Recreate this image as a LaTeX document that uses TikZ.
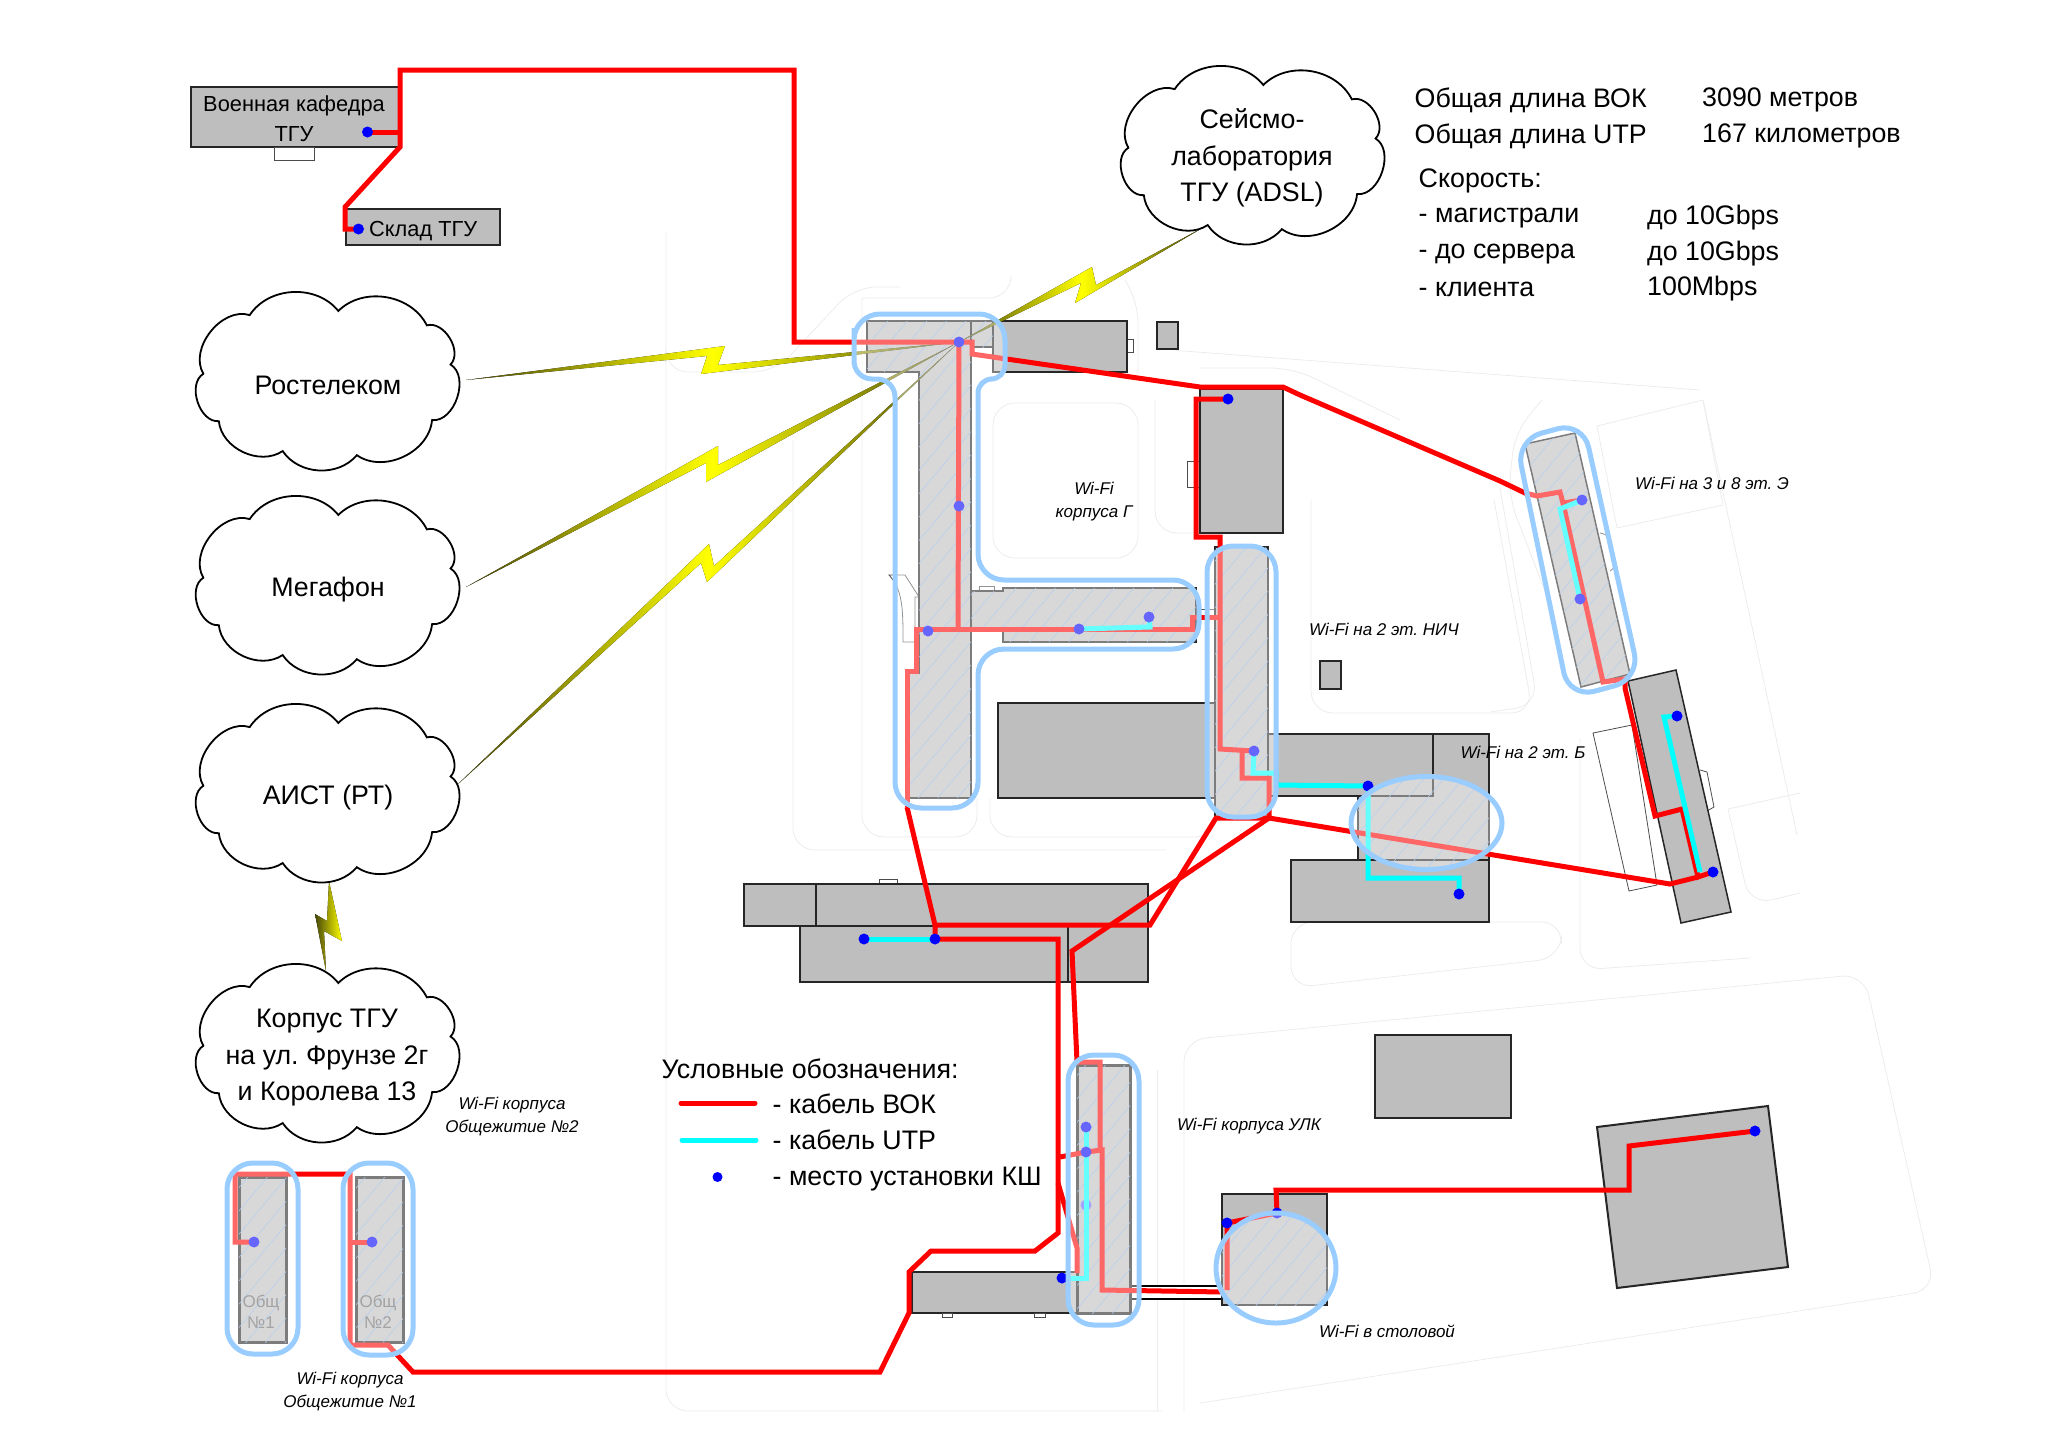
\documentclass[tikz,border=0pt]{standalone}
\usepackage{fontspec}
\setmainfont{Liberation Sans}
\usetikzlibrary{patterns.meta}

\definecolor{bldgray}{RGB}{190,190,190}
\definecolor{wifiblue}{RGB}{153,204,255}
\definecolor{hatchblue}{RGB}{130,175,235}
\definecolor{boltdark}{RGB}{70,70,10}
\definecolor{roadgray}{RGB}{236,236,236}
\definecolor{utpcyan}{RGB}{0,255,255}

\tikzset{
  road/.style={draw=roadgray,line width=0.8pt,rounded corners=22pt},
  bld/.style={draw=black!85,line width=1.5pt,fill=bldgray},
  annex/.style={draw=black!70,line width=0.8pt,fill=white},
  hatched/.style={postaction={pattern={Lines[angle=50,distance=15pt,line width=0.5pt]},pattern color=hatchblue}},
  vok/.style={draw=red,line width=5pt},
  utp/.style={draw=utpcyan,line width=5pt},
  ksh/.style={circle,fill=blue,inner sep=0pt,minimum size=11pt},
  wifizone/.style={draw=wifiblue,line width=5pt,fill=white,fill opacity=0.4,rounded corners=26pt},
  bolt/.style={left color=boltdark,right color=boltdark,middle color=yellow},
  big/.style={inner sep=0pt,font=\fontsize{26.8}{36.5}\selectfont},
  inbld/.style={inner sep=0pt,font=\fontsize{21.8}{29}\selectfont},
  wifilbl/.style={inner sep=0pt,align=center,font=\fontsize{17}{23}\selectfont\itshape},
  netcloud/.pic={
    \draw[fill=white,line width=1.8pt] (-76,-64)
      to[bend left=54] (10,-68) to[bend left=54] (96,-54)
      to[bend left=75] (119,-16) to[bend left=77] (101,38)
      to[bend left=60] (28,72) to[bend left=53] (-44,68)
      to[bend left=59] (-106,39) to[bend left=77] (-121,-7)
      to[bend left=69] (-76,-64) -- cycle;
  }
}

\begin{document}
\frenchspacing
\begin{tikzpicture}[x=1pt,y=-1pt]
  \useasboundingbox (0,0) rectangle (2048,1449);

  % roads
  \draw[road] (666,233) -- (666,1411) -- (1162,1411);
  \draw[road] (666,363) -- (666,372) -- (775,372) -- (854,287) -- (900,287);
  \draw[road] (793,440) -- (793,850) -- (1166,850);
  \draw[road] (862,298) -- (862,837) -- (977,837) -- (977,798);
  \draw[road] (862,298) -- (1011,298) -- (1011,280);
  \draw[road] (990,798) -- (990,837) -- (1217,837) -- (1217,818);
  \draw[road] (993,403) -- (1138,403) -- (1138,558) -- (993,558) -- cycle;
  \draw[road] (1125,280) -- (1138,300) -- (1138,372);
  \draw[road] (1157,322) -- (1157,349) -- (1700,390);
  \draw[road] (1200,368) -- (1293,368) -- (1400,420);
  \draw[road] (1155,400) -- (1155,533) -- (1200,533);
  \draw[road] (1311,500) -- (1311,713) -- (1533,713) -- (1494,500);
  \draw[road] (1184,1411) -- (1184,1040) -- (1864,974) -- (1935,1290) -- (1200,1403);
  \draw[road] (1157,1070) -- (1157,1411);
  \draw[road] (1291,922) -- (1291,988) -- (1560,958) -- (1563,922) -- cycle;
  \draw[road] (1580,738) -- (1580,970) -- (1750,958);
  \draw[road] (1703,400) -- (1797,835);
  \draw[road,rounded corners=0pt] (1597,426) -- (1617,528) -- (1723,505) -- (1703,400) -- cycle;
  \draw[road] (1542,400) -- (1515,432) -- (1508,495) -- (1553,612);
  \draw[road] (1500,488) -- (1538,705) -- (1490,712);
  \draw[road] (1728,809) -- (1750,905) -- (1800,893);
  \draw[road] (1728,809) -- (1800,793);

  % buildings
  \draw[bld] (191,87) rectangle (399,147);
  \draw[annex] (274,147) rectangle (314,160);
  \draw[bld] (346,209) rectangle (500,245);
  \draw[annex] (1127,339) rectangle (1133,352);
  \draw[bld] (993,321) rectangle (1127,372);
  \draw[bld] (1157,322) rectangle (1178,349);
  \draw[annex] (979,586) rectangle (994,591);
  \draw[annex] (889,575) .. controls (903,590) and (903,610) .. (903,642) -- (915,642) -- (915,597) -- (919,597) -- (905,575) -- cycle;
  \draw[annex] (1187,461) rectangle (1200,487);
  \draw[bld] (1200,389) rectangle (1283,533);
  \draw[bld] (998,703) rectangle (1216,798);
  \draw[bld] (1320,661) rectangle (1341,689);
  \draw[annex] (1196,609) rectangle (1215,615);
  \draw[bld] (1267,734) rectangle (1489,796);
  \draw[bld] (1291,860) rectangle (1489,922);
  \draw[bld] (1433,734) -- (1489,734) -- (1489,860) -- (1358,860) -- (1358,796) -- (1433,796) -- cycle;
  \draw[annex] (879,884) rectangle (897,879);
  \draw[bld] (744,884) rectangle (1148,926);
  \draw[bld] (816,884) -- (816,926);
  \draw[bld] (800,926) rectangle (1148,982);
  \draw[bld] (1068,926) -- (1068,982);
  \draw[bld,line width=2.5pt] (912,1272) rectangle (1077,1313);
  \draw[annex] (942,1313) rectangle (952,1317);
  \draw[annex] (1034,1313) rectangle (1045,1317);
  \draw[annex,draw=black,line width=2pt] (1130,1286) rectangle (1222,1299);
  \draw[bld,line width=2.5pt] (1222,1194) rectangle (1327,1305);
  \draw[bld,line width=2.5pt] (1375,1035) rectangle (1511,1118);
  \draw[bld,line width=2pt] (1597,1127) -- (1768,1106) -- (1788,1267) -- (1617,1288) -- cycle;
  \draw[annex] (1593,733) -- (1632,725) -- (1657,885) -- (1629,891) -- cycle;
  \draw[annex] (1600,533) .. controls (1606,534) and (1608,536) .. (1609,540) -- (1614,565) .. controls (1614,568) and (1612,570) .. (1610,571);
  \draw[annex] (1700,770) -- (1707,772) -- (1714,807) -- (1707,811);
  \draw[bld] (1628,681) -- (1676,670) -- (1731,912) -- (1681,923) -- cycle;

  % buildings under wi-fi
  \draw[bld,hatched] (867,321) -- (971,321) -- (971,798) -- (908,798) -- (908,673) -- (919,673) -- (919,372) -- (867,372) -- cycle;
  \draw[bld,hatched] (971,321) rectangle (993,347);
  \draw[bld,hatched] (971,591) -- (1003,591) -- (1003,588) -- (1196,588) -- (1196,642) -- (1003,642) -- (1003,629) -- (971,629) -- cycle;
  \draw[bld,hatched] (1215,547) rectangle (1268,818);
  \draw[bld,hatched] (1525,444) -- (1575,433) -- (1630,674) -- (1581,687) -- cycle;
  \draw[bld,hatched,line width=3pt] (1077,1065) rectangle (1130,1313);
  \draw[bld,hatched,line width=3pt] (239,1177) rectangle (286,1342);
  \draw[bld,hatched,line width=3pt] (356,1177) rectangle (403,1342);
  \begin{scope}
    \clip (1426.5,823) ellipse [x radius=75.5,y radius=46.5];
    \path[hatched] (1358,734) rectangle (1489,922);
  \end{scope}
  \begin{scope}
    \clip (1276,1268) ellipse [x radius=60,y radius=55];
    \path[hatched] (1222,1194) rectangle (1327,1305);
  \end{scope}

  \node[inner sep=0pt,text=black!60,align=center,font=\fontsize{17}{21}\selectfont] (obA) at (261,1312) {Общ\\№1};
  \node[inner sep=0pt,text=black!60,align=center,font=\fontsize{17}{21}\selectfont] (obB) at (378,1312) {Общ\\№2};

  \path coordinate (voen) at (367.5,132) coordinate (sklad) at (358.5,229)
    coordinate (tMain) at (959,342) coordinate (tMid) at (959,506)
    coordinate (tLeft) at (928,631) coordinate (tBarA) at (1079,629)
    coordinate (tBarB) at (1149,617) coordinate (gBld) at (1228,399)
    coordinate (nic) at (1254,751) coordinate (bUp) at (1368,786)
    coordinate (bLow) at (1459,894) coordinate (eUp) at (1582,500)
    coordinate (eLow) at (1580,599) coordinate (uUp) at (1677,716)
    coordinate (uLow) at (1713,872) coordinate (labA) at (864,939)
    coordinate (labB) at (935,939) coordinate (ulkA) at (1086,1127)
    coordinate (ulkB) at (1086,1152) coordinate (ulkC) at (1086,1205)
    coordinate (ulkD) at (1062,1278) coordinate (cantA) at (1227,1223)
    coordinate (cantB) at (1277,1213) coordinate (lastBld) at (1755,1131)
    coordinate (obDotA) at (254,1242) coordinate (obDotB) at (372,1242);

  % radio links
  \fill[bolt] (466,380) -- (725,346) -- (718,365) -- (tMain) -- (701,374) -- (707,356) -- cycle;
  \fill[bolt] (466,587) -- (718,446) -- (718,465) -- (tMain) -- (706,482) -- (706,463) -- cycle;
  \fill[bolt] (457,785) -- (709,544) -- (714,566) -- (tMain) -- (707,582) -- (701,563) -- cycle;
  \fill[bolt] (tMain) -- (1092,267) -- (1096,285) -- (1204,227) -- (1075,303) -- (1081,283) -- cycle;
  \fill[left color=boltdark,right color=yellow] (329,881) -- (342,941) -- (324,931) -- (326,971) -- (315,914) -- (327,921) -- cycle;

  % cables
  \draw[vok] (voen) -- (400,132);
  \draw[vok] (sklad) -- (345,229) -- (345,207) -- (400,147) -- (400,70) -- (794,70) -- (794,342) -- (tMain);
  \draw[vok] (tMain) -- (972,342) -- (972,354) -- (1200,387) -- (1283,387) -- (1300,395) -- (1500,481) -- (1525,493) -- (1537,496) -- (1560,492) -- (1563,503) -- (eUp);
  \draw[vok] (1563,503) -- (1603,682) -- (1625,679) -- (1625,688) -- (1655,816) -- (1682,809) -- (1698,877) -- (uLow);
  \draw[vok] (tMain) -- (958,629);
  \draw[vok] (907,807) -- (907,671) -- (916,671) -- (916,629) -- (1192,629) -- (1192,617) -- (1220,617);
  \draw[vok] (907,807) -- (935,925) -- (labB) -- (1058,939) -- (1058,1233) -- (1035,1251) -- (931,1251) -- (909,1272) -- (909,1313) -- (880,1372) -- (413,1372) -- (388,1345) -- (350,1345) -- (350,1174) -- (235,1174) -- (235,1242) -- (obDotA);
  \draw[vok] (350,1242) -- (obDotB);
  \draw[vok] (935,925) -- (1150,925) -- (1216,818) -- (1269,818);
  \draw[vok] (gBld) -- (1196,399) -- (1196,537) -- (1220,537) -- (1220,749) -- (nic);
  \draw[vok] (1242,749) -- (1242,778) -- (1269,778) -- (1269,818) -- (1670,884) -- (1698,877);
  \draw[vok] (1269,818) -- (1072,951) -- (1077,1062) -- (1100,1062) -- (1100,1150);
  \draw[vok] (1060,1157) -- (ulkB) -- (1102,1150) -- (1102,1290) -- (1223,1292);
  \draw[vok] (1058,1183) -- (1077,1248) -- (1077,1273);
  \draw[vok] (1227,1290) -- (cantA) -- (cantB) -- (1276,1190) -- (1629,1190) -- (1629,1146) -- (lastBld);
  \node[ksh,fill=blue!60] (kshUlkC) at (ulkC) {};

  \draw[utp] (labA) -- (labB);
  \draw[utp] (tBarA) -- (1150,627) -- (tBarB);
  \draw[utp] (nic) -- (1253,773) -- (1276,773) -- (1276,785) -- (bUp) -- (1368,878) -- (1459,878) -- (bLow);
  \draw[utp] (eLow) -- (1560,509) -- (eUp);
  \draw[utp] (uUp) -- (1664,717) -- (1700,872);
  \draw[utp] (ulkA) -- (1086,1278) -- (ulkD);

  \foreach \n in {voen,sklad,tMain,tMid,tLeft,tBarA,tBarB,gBld,nic,bUp,bLow,eUp,eLow,uUp,uLow,labA,labB,ulkA,ulkB,ulkD,cantA,cantB,lastBld,obDotA,obDotB} {
    \node[ksh] (ksh\n) at (\n) {};
  }

  % wi-fi zones
  \draw[wifizone] (854,346) -- (854,314) -- (1005,314) [rounded corners=14pt] -- (1005,379) -- (978,379) [rounded corners=26pt] -- (978,580) -- (1199,580) -- (1199,649) -- (978,649) -- (978,808) -- (895,808) [rounded corners=18pt] -- (895,379) -- (854,379) -- cycle;
  \draw[wifizone] (1207,546) rectangle (1276,817);
  \draw[wifizone] (1516,440) -- (1583,422) -- (1640,679) -- (1569,698) -- cycle;
  \draw[wifizone] (1068,1055) rectangle (1139,1325);
  \draw[wifizone] (227,1163) rectangle (298,1354);
  \draw[wifizone] (343,1163) rectangle (413,1355);
  \draw[wifizone] (1426.5,823) ellipse [x radius=75.5,y radius=46.5];
  \draw[wifizone] (1276,1268) ellipse [x radius=60,y radius=55];

  % clouds
  \foreach \cx/\cy in {328/381,328/585,328/793,328/1053,1253/155} {
    \pic[scale=1.03] at (\cx,\cy) {netcloud};
  }
  \node[big] (rostel) at (328,385) {Ростелеком};
  \node[big] (megafon) at (328,590) {Мегафон};
  \node[big] (aist) at (328,798) {АИСТ (РТ)};
  \node[big,align=center] (korpus) at (327,1058) {Корпус ТГУ\\на ул. Фрунзе 2г\\и Королева 13};
  \node[big,align=center] (seismo) at (1252,158) {Сейсмо-\\лаборатория\\ТГУ (ADSL)};

  \node[inbld] (kafedra) at (294,106) {Военная кафедра};
  \node[inbld] (kafedraB) at (294,134) {ТГУ};
  \node[inbld,anchor=west] (skladTxt) at (369,231) {Склад ТГУ};

  % totals and speed
  \foreach[count=\i] \yy/\ltxt/\rtxt in {100/Общая длина ВОК/3090 метров,136/Общая длина UTP/167 километров} {
    \node[big,anchor=west] (len\i) at (1414.5,\yy) {\ltxt};
    \node[big,anchor=west] (lenv\i) at (1702,\yy) {\rtxt};
  }
  \node[big,anchor=west] (speed) at (1418.5,181) {Скорость:};
  \foreach[count=\i] \yy/\ltxt/\rtxt in {218/- магистрали/до 10Gbps,254/- до сервера/до 10Gbps,289/- клиента/100Mbps} {
    \node[big,anchor=west] (sp\i) at (1418.5,\yy) {\ltxt};
    \node[big,anchor=west] (spv\i) at (1647,\yy) {\rtxt};
  }

  % legend
  \node[big,anchor=west] (legend) at (661.5,1069) {Условные обозначения:};
  \coordinate (legA) at (681,1103);
  \coordinate (legB) at (755,1103);
  \coordinate (legC) at (682,1140);
  \coordinate (legD) at (756,1140);
  \draw[vok,line cap=round] (legA) -- (legB);
  \draw[utp,line cap=round] (legC) -- (legD);
  \node[ksh,minimum size=10pt] (legDot) at (717.5,1177) {};
  \node[big,anchor=west] (legVok) at (772.5,1104) {- кабель ВОК};
  \node[big,anchor=west] (legUtp) at (772.5,1140) {- кабель UTP};
  \node[big,anchor=west] (legKsh) at (772.5,1179) {- место установки КШ};

  % wi-fi labels
  \node[wifilbl] (lblG) at (1094,502) {Wi-Fi\\корпуса Г};
  \node[wifilbl] (lblNic) at (1384,629) {Wi-Fi на 2 эт. НИЧ};
  \node[wifilbl] (lblB) at (1523,752) {Wi-Fi на 2 эт. Б};
  \node[wifilbl] (lblE) at (1712,483) {Wi-Fi на 3 и 8 эт. Э};
  \node[wifilbl] (lblUlk) at (1249,1126) {Wi-Fi корпуса УЛК};
  \node[wifilbl] (lblCant) at (1387,1331) {Wi-Fi в столовой};
  \node[wifilbl] (lblObB) at (512,1117) {Wi-Fi корпуса\\Общежитие №2};
  \node[wifilbl] (lblObA) at (350,1392) {Wi-Fi корпуса\\Общежитие №1};
\end{tikzpicture}
\end{document}
